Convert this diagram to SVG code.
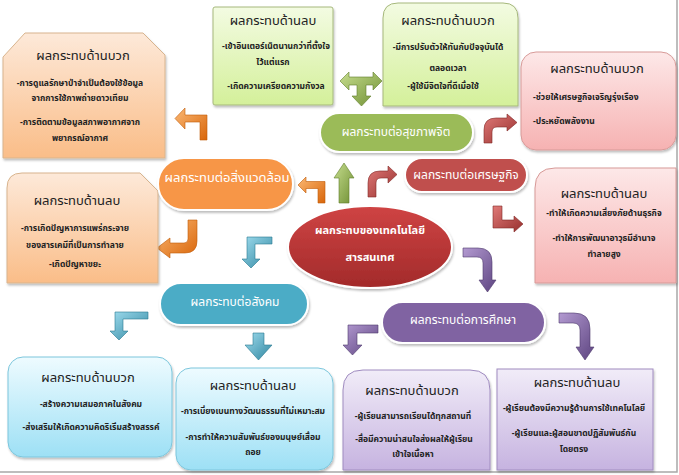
<svg xmlns="http://www.w3.org/2000/svg" width="679" height="475" viewBox="0 0 679 475">
<defs>
<linearGradient id="gOrangeBox" x1="0" y1="0" x2="0" y2="1"><stop offset="0" stop-color="#fde9d9"/><stop offset="1" stop-color="#fabd88"/></linearGradient>
<linearGradient id="gGreenBox" x1="0" y1="0" x2="0" y2="1"><stop offset="0" stop-color="#f3fbe2"/><stop offset="1" stop-color="#d4f09a"/></linearGradient>
<linearGradient id="gRedBox" x1="0" y1="0" x2="0" y2="1"><stop offset="0" stop-color="#fde8e8"/><stop offset="1" stop-color="#f6b2b2"/></linearGradient>
<linearGradient id="gCyanBox" x1="0" y1="0" x2="0" y2="1"><stop offset="0" stop-color="#eefbff"/><stop offset="1" stop-color="#9de0f5"/></linearGradient>
<linearGradient id="gPurpleBox" x1="0" y1="0" x2="0" y2="1"><stop offset="0" stop-color="#f1ecf8"/><stop offset="1" stop-color="#c6b3e0"/></linearGradient>
<linearGradient id="gCenter" x1="0" y1="0" x2="0" y2="1"><stop offset="0" stop-color="#cf4444"/><stop offset="1" stop-color="#a22a2a"/></linearGradient>
<linearGradient id="aOrange" x1="0" y1="0" x2="1" y2="1"><stop offset="0" stop-color="#fbb874"/><stop offset="1" stop-color="#d9660a"/></linearGradient>
<linearGradient id="aRed" x1="0" y1="0" x2="1" y2="1"><stop offset="0" stop-color="#e07a78"/><stop offset="1" stop-color="#962f2d"/></linearGradient>
<linearGradient id="aGreen" x1="0" y1="0" x2="1" y2="1"><stop offset="0" stop-color="#c6dd8e"/><stop offset="1" stop-color="#6f8f33"/></linearGradient>
<linearGradient id="aBlue" x1="0" y1="0" x2="1" y2="1"><stop offset="0" stop-color="#9fdcee"/><stop offset="1" stop-color="#2f86a0"/></linearGradient>
<linearGradient id="aPurple" x1="0" y1="0" x2="1" y2="1"><stop offset="0" stop-color="#b39ad1"/><stop offset="1" stop-color="#5d4480"/></linearGradient>
<filter id="sh" x="-10%" y="-10%" width="120%" height="130%"><feDropShadow dx="1" dy="2" stdDeviation="1.2" flood-color="#000" flood-opacity="0.25"/></filter>
</defs>
<style>
text{font-family:'Noto Sans Thai','Noto Sans','DejaVu Sans',sans-serif;}
.title{font-size:13px;fill:#222;text-anchor:middle;}
.body{font-size:8.5px;font-weight:bold;fill:#222;text-anchor:middle;}
.bodyL{font-size:8.5px;font-weight:bold;fill:#222;}
.pill{stroke:#ffffff;stroke-width:2;filter:url(#sh);}
.ptext{font-size:12px;fill:#ffffff;text-anchor:middle;}
.box{filter:url(#sh);}
.arr{stroke-width:0.6;}
</style>
<rect x="0" y="0" width="679" height="475" fill="#ffffff"/>
<polyline points="0,472 677,472 677,0" fill="none" stroke="#a8a8a8" stroke-width="1.5"/>

<g id="connectors">
<polygon class="arr" fill="url(#aOrange)" stroke="#c05a08" points="200,140 207,140 207,115 185,115 185,108 175,118.5 185,129 185,122 200,122"/>
<polygon class="arr" fill="url(#aOrange)" stroke="#c05a08" points="318,203 325,203 325,181.5 306,181.5 306,177 298,185 306,193 306,188.5 318,188.5"/>
<path class="arr" fill="url(#aOrange)" stroke="#c05a08" d="M188,220 H197 V241 Q197,253 185,253 H170 V258 L157,248 L170,238 V243 H184 Q188,243 188,239 Z"/>
<polygon class="arr" fill="url(#aBlue)" stroke="#2a7890" points="272,237 272,244 255,244 255,259 260,259 251,268 242,259 247,259 247,237"/>
<polygon class="arr" fill="url(#aGreen)" stroke="#5f7d2a" points="339,203 349,203 349,178 354,178 344,163 334,178 339,178"/>
<path class="arr" fill="url(#aRed)" stroke="#822826" d="M368,197 H376 V183 Q376,178 381,178 H388 V183 L397,174.5 L388,166 V171 H380 Q368,171 368,183 Z"/>
<path class="arr" fill="url(#aRed)" stroke="#822826" d="M484,143 H492 V132 Q492,127 497,127 H507 V131 L517,122.5 L507,114 V118 H496 Q484,118 484,130 Z"/>
<polygon class="arr" fill="url(#aRed)" stroke="#822826" points="493,206 502,206 502,220 514,220 514,216 523,224 514,232 514,228 493,228"/>
<path class="arr" fill="url(#aPurple)" stroke="#4f3a6d" d="M463,248 H478 Q492,248 492,262 V280 H496 L487.5,292 L479,280 H483 V263 Q483,257 477,257 H463 Z"/>
<polygon class="arr" fill="url(#aPurple)" stroke="#4f3a6d" points="378,325 378,333 357,333 357,345 362,345 352.5,355 343,345 348,345 348,325"/>
<path class="arr" fill="url(#aPurple)" stroke="#4f3a6d" d="M559,313 H574 Q590,313 590,329 V347 H594 L585,360 L576,347 H580 V330 Q580,323 573,323 H559 Z"/>
<polygon class="arr" fill="url(#aBlue)" stroke="#2a7890" points="148,312 148,319 123,319 123,331 128,331 119,340 110,331 115,331 115,312"/>
<polygon class="arr" fill="url(#aBlue)" stroke="#2a7890" points="253,333 264,333 264,345 272,345 258.5,360 245,345 253,345"/>
<polygon class="arr" fill="url(#aGreen)" stroke="#5f7d2a" points="340,81 349,72 349,77 373,77 373,72 382,81 373,90 373,85 366,85 366,96 371,96 361.5,106 352,96 357,96 357,85 349,85 349,90"/>
</g>

<g id="env-positive">
<path class="box" d="M3,57 L25,33 L143,33 L165,55 L165,158 L3,158 Z" fill="url(#gOrangeBox)" stroke="#d8b48e" stroke-width="1"/>
<text class="title" x="83" y="60">ผลกระทบด้านบวก</text>
<text class="body" x="80" y="86">-การดูแลรักษาป่าจำเป็นต้องใช้ข้อมูล</text>
<text class="body" x="80" y="101">จากการใช้ภาพถ่ายดาวเทียม</text>
<text class="body" x="80" y="125">-การติดตามข้อมูลสภาพอากาศจาก</text>
<text class="body" x="80" y="141">พยากรณ์อากาศ</text>
</g>

<g id="mental-negative">
<rect class="box" x="213" y="7" width="120" height="98" rx="2" fill="url(#gGreenBox)" stroke="#a6b87c" stroke-width="1"/>
<text class="title" x="273" y="25">ผลกระทบด้านลบ</text>
<text class="body" x="276" y="49">-เข้าอินเตอร์เน็ตนานกว่าที่ตั้งใจ</text>
<text class="body" x="273" y="65">ไว้แต่แรก</text>
<text class="body" x="276" y="89">-เกิดความเครียดความกังวล</text>
</g>

<g id="mental-positive">
<path class="box" d="M383,106 L383,18 Q383,3 398,3 L503,3 Q518,3 518,18 L518,106 Z" fill="url(#gGreenBox)" stroke="#a6b87c" stroke-width="1"/>
<text class="title" x="448" y="25">ผลกระทบด้านบวก</text>
<text class="body" x="448" y="50">-มีการปรับตัวให้ทันกับปัจจุบันได้</text>
<text class="body" x="448" y="71">ตลอดเวลา</text>
<text class="body" x="443" y="89">-ผู้ใช้มีจิตใจที่ดีเมื่อใช้</text>
</g>

<g id="econ-positive">
<rect class="box" x="521" y="52" width="155" height="98" rx="15" fill="url(#gRedBox)" stroke="#d79a98" stroke-width="1"/>
<text class="title" x="597" y="73">ผลกระทบด้านบวก</text>
<text class="bodyL" x="533" y="100">-ช่วยให้เศรษฐกิจเจริญรุ่งเรือง</text>
<text class="bodyL" x="533" y="124">-ประหยัดพลังงาน</text>
</g>

<g id="env-negative">
<path class="box" d="M7,283 L7,188 Q7,173 22,173 L140,173 L158,191 L158,283 Z" fill="url(#gOrangeBox)" stroke="#d8b48e" stroke-width="1"/>
<text class="title" x="77" y="205">ผลกระทบด้านลบ</text>
<text class="body" x="75" y="231">-การเกิดปัญหาการแพร่กระจาย</text>
<text class="body" x="75" y="248">ของสารเคมีที่เป็นการทำลาย</text>
<text class="body" x="75" y="267">-เกิดปัญหาขยะ</text>
</g>

<g id="econ-negative">
<path class="box" d="M535,283 L535,188 Q535,168 555,168 L676,168 L676,283 Z" fill="url(#gRedBox)" stroke="#d79a98" stroke-width="1"/>
<text class="title" x="604" y="198">ผลกระทบด้านลบ</text>
<text class="body" x="604" y="216">-ทำให้เกิดความเสี่ยงภัยด้านธุรกิจ</text>
<text class="body" x="604" y="241">-ทำให้การพัฒนาอาวุธมีอำนาจ</text>
<text class="body" x="604" y="257">ทำลายสูง</text>
</g>

<g id="center">
<ellipse cx="370" cy="247" rx="82" ry="41" fill="url(#gCenter)" stroke="#ffffff" stroke-width="2" filter="url(#sh)"/>
<text class="ptext" x="370" y="234" style="font-size:11px;font-weight:bold">ผลกระทบของเทคโนโลยี</text>
<text class="ptext" x="370" y="261" style="font-size:11px;font-weight:bold">สารสนเทศ</text>
</g>

<g id="mental">
<rect class="pill" x="320" y="113" width="153" height="39" rx="19.5" fill="#9bbb59"/>
<text class="ptext" x="396" y="136">ผลกระทบต่อสุขภาพจิต</text>
</g>

<g id="economy">
<rect class="pill" x="405" y="158" width="122" height="34" rx="17" fill="#c0504d"/>
<text class="ptext" x="466" y="179">ผลกระทบต่อเศรษฐกิจ</text>
</g>

<g id="environment">
<rect class="pill" x="158" y="158" width="135" height="52" rx="26" fill="#f79646"/>
<text class="ptext" x="227" y="182" style="font-size:13px">ผลกระทบต่อสิ่งแวดล้อม</text>
</g>

<g id="society">
<rect class="pill" x="160" y="283" width="148" height="42" rx="21" fill="#4bacc6"/>
<text class="ptext" x="235" y="306">ผลกระทบต่อสังคม</text>
</g>

<g id="education">
<rect class="pill" x="382" y="302" width="163" height="41" rx="20.5" fill="#8064a2"/>
<text class="ptext" x="463" y="324">ผลกระทบต่อการศึกษา</text>
</g>

<g id="society-positive">
<rect class="box" x="8" y="357" width="164" height="100" rx="15" fill="url(#gCyanBox)" stroke="#7cc6dc" stroke-width="1"/>
<text class="title" x="88" y="382">ผลกระทบด้านบวก</text>
<text class="body" x="91" y="407">-สร้างความเสมอภาคในสังคม</text>
<text class="body" x="91" y="430">-ส่งเสริมให้เกิดความคิดริเริ่มสร้างสรรค์</text>
</g>

<g id="society-negative">
<rect class="box" x="176" y="368" width="157" height="102" rx="15" fill="url(#gCyanBox)" stroke="#7cc6dc" stroke-width="1"/>
<text class="title" x="253" y="390">ผลกระทบด้านลบ</text>
<text class="body" x="253" y="414">-การเบี่ยงเบนทางวัฒนธรรมที่ไม่เหมาะสม</text>
<text class="body" x="253" y="440">-การทำให้ความสัมพันธ์ของมนุษย์เสื่อม</text>
<text class="body" x="253" y="455">ถอย</text>
</g>

<g id="education-positive">
<path class="box" d="M343,470 L343,390 Q343,370 363,370 L470,370 Q490,370 490,390 L490,470 Z" fill="url(#gPurpleBox)" stroke="#a08cc0" stroke-width="1"/>
<text class="title" x="412" y="395">ผลกระทบด้านบวก</text>
<text class="body" x="413" y="419">-ผู้เรียนสามารถเรียนได้ทุกสถานที่</text>
<text class="body" x="414" y="442">-สื่อมีความน่าสนใจส่งผลให้ผู้เรียน</text>
<text class="body" x="413" y="457">เข้าใจเนื้อหา</text>
</g>

<g id="education-negative">
<rect class="box" x="497" y="369" width="156" height="101" fill="url(#gPurpleBox)" stroke="#a08cc0" stroke-width="1"/>
<text class="title" x="577" y="387">ผลกระทบด้านลบ</text>
<text class="body" x="574" y="411">-ผู้เรียนต้องมีความรู้ด้านการใช้เทคโนโลยี</text>
<text class="body" x="574" y="436">-ผู้เรียนและผู้สอนขาดปฏิสัมพันธ์กัน</text>
<text class="body" x="574" y="452">โดยตรง</text>
</g>
</svg>
